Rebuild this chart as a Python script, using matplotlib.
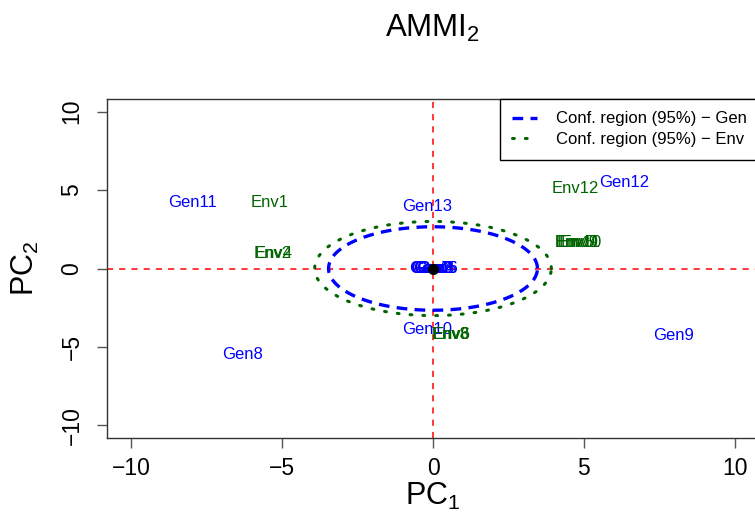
import numpy as np
import matplotlib
matplotlib.use("Agg")
import matplotlib.pyplot as plt
from matplotlib.lines import Line2D

plt.rcParams['font.family'] = ['Liberation Sans', 'DejaVu Sans']
plt.rcParams['mathtext.fontset'] = 'custom'
plt.rcParams['mathtext.rm'] = 'Liberation Sans'
plt.rcParams['mathtext.it'] = 'Liberation Sans'

# genotype scores (PC1, PC2)
gen_names = ["Gen%d" % i for i in range(1, 14)]
gen_pc1 = [-0.12, -0.05, 0.0, 0.05, 0.1, 0.15, -0.08, -6.3, 7.96, -0.18, -7.96, 6.33, -0.18]
gen_pc2 = [0.0, 0.02, -0.02, 0.0, 0.02, 0.0, -0.02, -5.48, -4.27, -3.9, 4.2, 5.45, 3.95]

# environment scores (PC1, PC2)
env_names = ["Env%d" % i for i in range(1, 13)]
env_pc1 = [-5.42, -5.32, 0.58, -5.28, 4.72, 0.62, 4.78, 0.6, 4.85, 4.82, 4.8, 4.71]
env_pc2 = [4.2, 0.95, -4.2, 0.95, 1.65, -4.22, 1.65, -4.2, 1.63, 1.65, 1.65, 5.1]

# confidence ellipse radii (PC1, PC2)
gen_radius = (3.46, 2.66)
env_radius = (3.92, 3.0)

fig = plt.figure(figsize=(7.55, 5.12), dpi=100)
ax = fig.add_axes([107/755, 1-438/512, (759-107)/755, (438-99)/512])

ax.axhline(0, color='red', ls=(0, (4, 4)), lw=1.1, zorder=1)
ax.axvline(0, color='red', ls=(0, (4, 4)), lw=1.1, zorder=1)

t = np.linspace(0, 2*np.pi, 400)
ax.plot(gen_radius[0]*np.cos(t), gen_radius[1]*np.sin(t), color='blue',
        ls=(0, (3.2, 2.2)), lw=2.4, zorder=2)
ax.plot(env_radius[0]*np.cos(t), env_radius[1]*np.sin(t), color='#006400',
        ls=(0, (0.6, 3.6)), lw=2.2, dash_capstyle='round', zorder=2)

for n, x, y in zip(gen_names, gen_pc1, gen_pc2):
    ax.text(x, y, n, color='blue', fontsize=12, ha='center', va='center', zorder=3)
for n, x, y in zip(env_names, env_pc1, env_pc2):
    ax.text(x, y, n, color='#006400', fontsize=12, ha='center', va='center', zorder=3)

ax.plot([0], [0], 'o', color='black', ms=7, zorder=4)

ax.set_xlim(-10.8, 10.8)
ax.set_ylim(-10.8, 10.8)
ax.set_xticks([-10, -5, 0, 5, 10])
ax.set_yticks([-10, -5, 0, 5, 10])
ax.set_xticklabels(['\u221210', '\u22125', '0', '5', '10'])
ax.set_yticklabels(['\u221210', '\u22125', '0', '5', '10'], rotation=90, va='center')
ax.tick_params(axis='both', labelsize=16.5, length=7, width=1, color='#555555')
ax.tick_params(axis='x', pad=6.5)
ax.tick_params(axis='y', pad=10)
for s in ax.spines.values():
    s.set_color('#333333')
    s.set_linewidth(1)

fig.text(433/755, 1-37/512, r'AMMI$_2$', fontsize=22.5, ha='center', va='baseline')
fig.text(433/755, 1-505/512, r'PC$_1$', fontsize=22, ha='center', va='baseline')
fig.text(41/755, 1-268/512, r'PC$_2$', fontsize=22, ha='right', va='center', rotation=90)

handles = [Line2D([], [], color='blue', ls=(0, (3.2, 2.2)), lw=2.4),
           Line2D([], [], color='#006400', ls=(0, (0.6, 3.6)), lw=2.2, dash_capstyle='round')]
labels = ['Conf. region (95%) \u2212 Gen', 'Conf. region (95%) \u2212 Env']
leg = ax.legend(handles, labels, loc='upper right', borderaxespad=0, fontsize=12,
                fancybox=False, edgecolor='black', framealpha=1,
                handlelength=1.5, handletextpad=1.1, borderpad=0.75, labelspacing=0.35)
leg.get_frame().set_linewidth(1)

fig.savefig('out.png', dpi=100)
